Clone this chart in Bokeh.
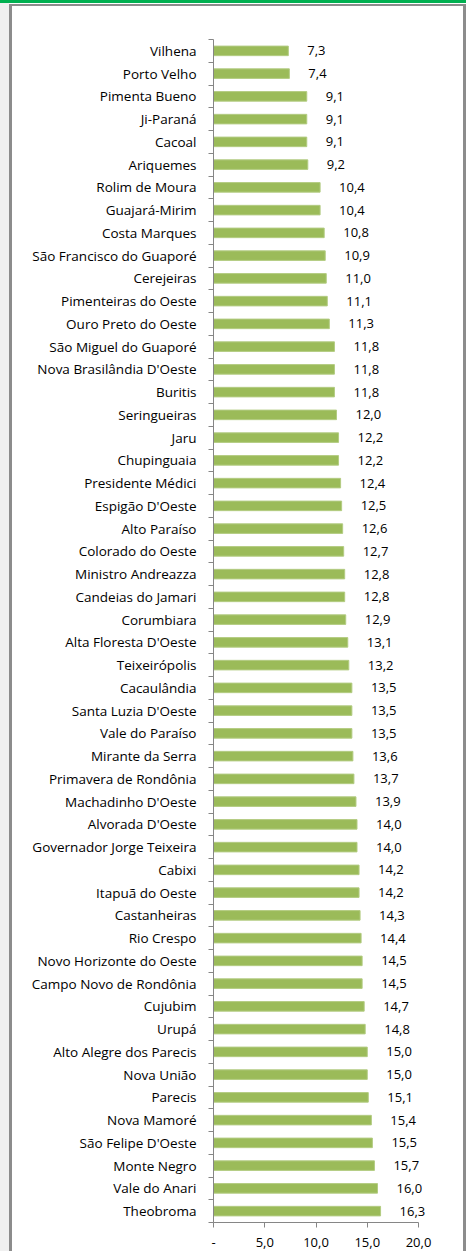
from bokeh.plotting import figure
from bokeh.models import Range1d, FixedTicker, ColumnDataSource
from bokeh.core.properties import value
from bokeh.embed import file_html
from bokeh.resources import INLINE

categories = ["Vilhena", "Porto Velho", "Pimenta Bueno", "Ji-Paraná", "Cacoal", "Ariquemes",
              "Rolim de Moura", "Guajará-Mirim", "Costa Marques", "São Francisco do Guaporé",
              "Cerejeiras", "Pimenteiras do Oeste", "Ouro Preto do Oeste", "São Miguel do Guaporé",
              "Nova Brasilândia D'Oeste", "Buritis", "Seringueiras", "Jaru", "Chupinguaia",
              "Presidente Médici", "Espigão D'Oeste", "Alto Paraíso", "Colorado do Oeste",
              "Ministro Andreazza", "Candeias do Jamari", "Corumbiara", "Alta Floresta D'Oeste",
              "Teixeirópolis", "Cacaulândia", "Santa Luzia D'Oeste", "Vale do Paraíso",
              "Mirante da Serra", "Primavera de Rondônia", "Machadinho D'Oeste", "Alvorada D'Oeste",
              "Governador Jorge Teixeira", "Cabixi", "Itapuã do Oeste", "Castanheiras", "Rio Crespo",
              "Novo Horizonte do Oeste", "Campo Novo de Rondônia", "Cujubim", "Urupá",
              "Alto Alegre dos Parecis", "Nova União", "Parecis", "Nova Mamoré", "São Felipe D'Oeste",
              "Monte Negro", "Vale do Anari", "Theobroma"]
values = [7.3, 7.4, 9.1, 9.1, 9.1, 9.2, 10.4, 10.4, 10.8, 10.9, 11.0, 11.1, 11.3, 11.8, 11.8, 11.8,
          12.0, 12.2, 12.2, 12.4, 12.5, 12.6, 12.7, 12.8, 12.8, 12.9, 13.1, 13.2, 13.5, 13.5, 13.5,
          13.6, 13.7, 13.9, 14.0, 14.0, 14.2, 14.2, 14.3, 14.4, 14.5, 14.5, 14.7, 14.8, 15.0, 15.0,
          15.1, 15.4, 15.5, 15.7, 16.0, 16.3]
x_ticks = [0, 5, 10, 15, 20]
x_tick_labels = ["-", "5,0", "10,0", "15,0", "20,0"]

W, H = 466, 1251
n = len(categories)
frame_left, frame_top, frame_bottom = 213, 39, 1222
px_per_unit = (418 - 213) / 20.0
x_end = (W - frame_left) / px_per_unit

ypos = [n - 1 - i for i in range(n)]
labels = [f"{v:.1f}".replace(".", ",") for v in values]
src = ColumnDataSource(dict(y=ypos, v=values, lab=labels))

p = figure(width=W, height=H, output_backend="svg", toolbar_location=None,
           x_range=Range1d(0, x_end), y_range=Range1d(-0.5, n - 0.5),
           min_border_left=frame_left, min_border_right=0,
           min_border_top=frame_top, min_border_bottom=H - frame_bottom)
p.outline_line_color = None
p.grid.visible = False
p.background_fill_color = None
p.border_fill_color = None

# page decorations drawn as the element's CSS background:
# green rule on top, light grey strip on the left, grey frame border
p.styles = {
    "background-color": "white",
    "background-image": ", ".join(["linear-gradient(#00b050, #00b050)"]
                                  + ["linear-gradient(#8c8c8c, #8c8c8c)"] * 3
                                  + ["linear-gradient(#c4c4c4, #c4c4c4)",
                                     "linear-gradient(#f0f0f0, #f0f0f0)"]),
    "background-size": "100% 3px, 100% 2px, 3px 100%, 3px 100%, 1px 100%, 9px 100%",
    "background-position": "0px 0px, 9px 4px, 9px 4px, 463px 4px, 10px 6px, 0px 3px",
    "background-repeat": "no-repeat",
}

p.hbar(y="y", right="v", left=0, height=0.42, source=src,
       fill_color="#9bbb59", line_color="#b3cc82", line_width=1)
p.text(x="v", y="y", text="lab", source=src, x_offset=19, text_align="left",
       text_baseline="middle", text_font=value("Open Sans"), text_font_size="13px",
       text_color="#000000")

FONT = "Open Sans"
ax = p.xaxis[0]
ax.ticker = FixedTicker(ticks=x_ticks)
ax.major_label_overrides = {t: l for t, l in zip(x_ticks, x_tick_labels)}
ax.bounds = (0, 20)
ax.axis_line_color = "#868686"
ax.major_tick_line_color = "#868686"
ax.major_tick_out = 5
ax.major_tick_in = 0
ax.minor_tick_line_color = None
ax.major_label_standoff = 10
ax.major_label_text_font = FONT
ax.major_label_text_font_size = "13px"
ax.major_label_text_color = "#000000"

ay = p.yaxis[0]
ay.ticker = FixedTicker(ticks=ypos, minor_ticks=[k - 0.5 for k in range(n + 1)])
ay.major_label_overrides = {y: c for y, c in zip(ypos, categories)}
ay.bounds = (-0.5, n - 0.5)
ay.axis_line_color = "#868686"
ay.major_tick_line_color = None
ay.minor_tick_line_color = "#868686"
ay.minor_tick_out = 5
ay.minor_tick_in = 0
ay.major_label_standoff = 11
ay.major_label_text_font = FONT
ay.major_label_text_font_size = "13.5px"
ay.major_label_text_color = "#000000"

open("out.html", "w").write(file_html(p, INLINE))
